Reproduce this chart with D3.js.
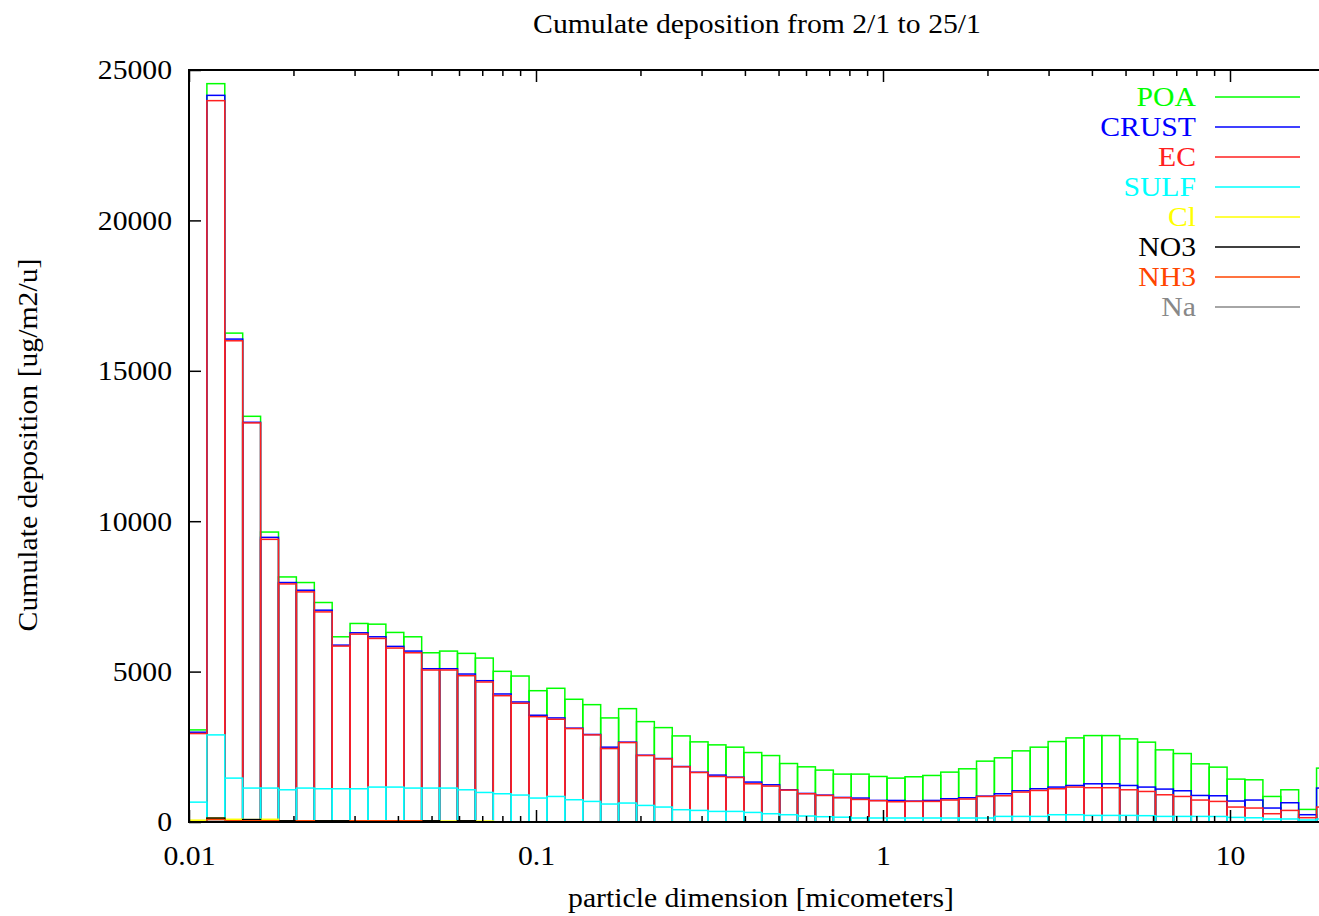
<!DOCTYPE html>
<html>
<head>
<meta charset="utf-8">
<script src="https://cdn.jsdelivr.net/npm/d3@7"></script>
<style>
body { margin: 0; background: #fff; }
svg { display: block; font-family: "Liberation Serif", "DejaVu Serif", serif; }
</style>
</head>
<body>
<svg width="1319" height="916"></svg>
<script>
var svg = d3.select("svg");

// bin edges (micrometers), 64 sections from 0.01 to 20
var binEdges = [0.01, 0.01126, 0.01268, 0.01428, 0.01608, 0.01811, 0.02039, 0.02297,
  0.02586, 0.02912, 0.03280, 0.03693, 0.04159, 0.04683, 0.05274, 0.05939,
  0.06688, 0.07531, 0.08481, 0.09551, 0.1075, 0.1211, 0.1364, 0.1536,
  0.1730, 0.1948, 0.2193, 0.2470, 0.2781, 0.3132, 0.3527, 0.3972,
  0.4472, 0.5036, 0.5671, 0.6386, 0.7192, 0.8099, 0.9120, 1.027,
  1.157, 1.302, 1.467, 1.652, 1.860, 2.094, 2.358, 2.656,
  2.991, 3.368, 3.793, 4.271, 4.809, 5.416, 6.099, 6.868,
  7.734, 8.709, 9.808, 11.04, 12.44, 14.01, 15.77, 17.76, 20];

// species deposition per bin [ug/m2/u]
var POA = [76, 389, 199, 199, 176, 186, 256, 255, 277, 310, 420, 464, 475, 531, 587, 687,
  753, 753, 863, 816, 985, 960, 991, 972, 1113, 1117, 1028, 1017, 1009, 1005, 998, 982,
  972, 872, 884, 832, 775, 796, 795, 742, 808, 830, 885, 962, 1163, 1194, 1327, 1383,
  1513, 1582, 1603, 1603, 1549, 1493, 1304, 1238, 1052, 952, 729, 673, 385, 431, 176, 663];
var CRUST = [45, 176, 56, 20, 66, 46, 55, 57, 32, 44, 55, 56, 56, 43, 43, 56,
  43, 57, 43, 46, 44, 15, 14, 47, 15, 11, 10, 11, 10, 46, 11, 57,
  43, 11, 11, 11, 11, 46, 11, 44, 11, 33, 43, 43, 11, 67, 43, 57,
  56, 53, 130, 130, 143, 146, 189, 189, 152, 188, 200, 266, 189, 255, 99, 631];
var EC = [2280, 21085, 14539, 12140, 8269, 6844, 6522, 5880, 4743, 5141, 4941, 4621, 4498, 3924, 3924, 3792,
  3672, 3260, 3051, 2707, 2567, 2365, 2212, 1844, 2010, 1658, 1603, 1426, 1260, 1161, 1127, 952,
  919, 819, 740, 706, 646, 617, 574, 540, 551, 551, 597, 630, 716, 686, 809, 862,
  863, 919, 921, 921, 852, 805, 719, 663, 544, 500, 344, 324, 175, 285, 77, 397];
var SULF = [600, 2766, 1369, 1048, 1038, 1031, 1088, 1065, 1065, 1065, 1121, 1121, 1088, 1088, 1098, 1031,
  952, 939, 896, 796, 849, 740, 684, 597, 630, 551, 497, 408, 385, 352, 352, 318,
  275, 242, 199, 176, 160, 133, 133, 133, 133, 133, 133, 133, 133, 186, 186, 186,
  242, 242, 219, 219, 219, 210, 186, 186, 186, 184, 153, 140, 100, 100, 66, 100];
var Cl = [60, 0, 50, 0, 50, 0, 0, 0, 0, 0, 0, 0, 0, 0, 30, 0,
  30, 0, 0, 0, 0, 0, 0, 0, 0, 0, 0, 0, 0, 0, 0, 0,
  0, 0, 0, 0, 0, 0, 0, 0, 0, 0, 0, 0, 0, 0, 0, 0,
  0, 0, 0, 0, 0, 0, 0, 0, 0, 0, 0, 0, 0, 0, 0, 0];
var NO3 = [0, 50, 0, 40, 0, 40, 0, 40, 40, 0, 0, 0, 0, 40, 0, 40,
  0, 0, 0, 0, 0, 0, 0, 0, 0, 0, 0, 0, 0, 0, 0, 0,
  0, 0, 0, 0, 0, 0, 0, 0, 0, 0, 0, 0, 0, 0, 0, 0,
  0, 0, 0, 0, 0, 0, 0, 0, 0, 0, 0, 0, 0, 0, 0, 0];
var NH3 = [0, 60, 40, 40, 40, 0, 40, 0, 0, 40, 40, 40, 40, 0, 0, 0,
  0, 0, 0, 0, 0, 0, 0, 0, 0, 0, 0, 0, 0, 0, 0, 0,
  0, 0, 0, 0, 0, 0, 0, 0, 0, 0, 0, 0, 0, 0, 0, 0,
  0, 0, 0, 0, 0, 0, 0, 0, 0, 0, 0, 0, 0, 0, 0, 0];
var Na = [0, 20, 0, 0, 0, 0, 0, 0, 0, 0, 0, 0, 0, 0, 0, 0,
  0, 0, 0, 0, 0, 0, 0, 0, 0, 0, 0, 0, 0, 0, 0, 0,
  0, 0, 0, 0, 0, 0, 0, 0, 0, 0, 0, 0, 0, 0, 0, 0,
  0, 0, 0, 0, 0, 0, 0, 0, 0, 0, 0, 0, 0, 0, 0, 0];

var yTicks = [0, 5000, 10000, 15000, 20000, 25000];
var xMajor = [0.01, 0.1, 1, 10];

// legend order = drawing order (top of stack first)
var series = [
  {name: "POA", values: POA, color: "#00ff00"},
  {name: "CRUST", values: CRUST, color: "#0000ff"},
  {name: "EC", values: EC, color: "#ff2020"},
  {name: "SULF", values: SULF, color: "#00ffff"},
  {name: "Cl", values: Cl, color: "#ffff00"},
  {name: "NO3", values: NO3, color: "#000000"},
  {name: "NH3", values: NH3, color: "#ff4500"},
  {name: "Na", values: Na, color: "#888888"}
];

var plotL = 189, plotT = 70, plotB = 822, decade = 347;
var x = d3.scaleLog().domain([0.01, 20]).range([plotL, plotL + decade * Math.log10(2000)]);
var y = d3.scaleLinear().domain([0, 25000]).range([plotB, plotT]);

// stacked table, bottom species first
var table = binEdges.slice(0, -1).map(function(d, i) {
  var row = {lo: d, hi: binEdges[i + 1]};
  series.forEach(function(s) { row[s.name] = s.values[i]; });
  return row;
});
var keys = series.map(function(s) { return s.name; }).reverse();
var stacked = d3.stack().keys(keys)(table);
var byName = {};
stacked.forEach(function(layer) { byName[layer.key] = layer; });

var sx = 1.1; // text is a bit wide in the original

//////////////////////////
// boxes, total first
//////////////////////////
series.forEach(function(s) {
  svg.append("g")
    .selectAll("rect")
    .data(byName[s.name])
    .enter()
    .append("rect")
    .attr("x", function(d) { return x(d.data.lo); })
    .attr("width", function(d) { return x(d.data.hi) - x(d.data.lo); })
    .attr("y", function(d) { return y(d[1]); })
    .attr("height", function(d) { return y(0) - y(d[1]); })
    .style("fill", "none")
    .style("stroke", s.color)
    .style("stroke-width", 1.5);
});

//////////////////////////
// axes
//////////////////////////
var minor = [];
[0.01, 0.1, 1, 10].forEach(function(p) {
  for (var m = 2; m <= 9; m++) if (p * m < 20) minor.push(p * m);
});

svg.append("g")
  .attr("transform", "translate(0," + plotB + ")")
  .call(d3.axisBottom(x).tickValues(minor).tickSize(-6).tickFormat(""));
svg.append("g")
  .attr("transform", "translate(0," + plotT + ")")
  .call(d3.axisTop(x).tickValues(minor).tickSize(-6).tickFormat(""));
svg.append("g")
  .attr("transform", "translate(0," + plotT + ")")
  .call(d3.axisTop(x).tickValues(xMajor).tickSize(-12).tickFormat(""));

var xAxis = svg.append("g")
  .attr("transform", "translate(0," + plotB + ")")
  .call(d3.axisBottom(x).tickValues(xMajor).tickSize(-12).tickPadding(43)
    .tickFormat(function(d) { return String(d); }));

var yAxis = svg.append("g")
  .attr("transform", "translate(" + plotL + ",0)")
  .call(d3.axisLeft(y).tickValues(yTicks).tickSize(-12).tickPadding(17 / sx)
    .tickFormat(function(d) { return String(d); }));

svg.selectAll(".domain").remove();
svg.selectAll(".tick line").style("stroke", "#000").style("stroke-width", 1.5);
svg.selectAll(".tick text")
  .style("font-family", "Liberation Serif")
  .style("font-size", "27px")
  .style("fill", "#000")
  .attr("transform", "scale(" + sx + ",1)");
xAxis.selectAll(".tick text").attr("dy", 0);
yAxis.selectAll(".tick text").attr("dy", "0.33em");

// border (right side lies outside the picture)
svg.append("path")
  .attr("d", "M1400," + plotT + "H" + plotL + "V" + plotB + "H1400")
  .style("fill", "none")
  .style("stroke", "#000")
  .style("stroke-width", 2);

//////////////////////////
// texts
//////////////////////////
function label(xp, yp, txt, rot, color, anchor) {
  svg.append("text")
    .attr("transform", "translate(" + xp + "," + yp + ")" + (rot ? " rotate(" + rot + ")" : "") + " scale(" + sx + ",1)")
    .attr("text-anchor", anchor || "middle")
    .style("font-size", "27px")
    .style("fill", color || "#000")
    .text(txt);
}

label(757, 33, "Cumulate deposition from 2/1 to 25/1");
label(761, 907, "particle dimension [micometers]");
label(37, 445, "Cumulate deposition [ug/m2/u]", -90);

// legend
series.forEach(function(s, i) {
  var ly = 97 + i * 30;
  label(1196, ly + 9, s.name, 0, s.color, "end");
  svg.append("line")
    .attr("x1", 1215).attr("x2", 1300)
    .attr("y1", ly).attr("y2", ly)
    .style("stroke", s.color)
    .style("stroke-width", 1.5);
});
</script>
</body>
</html>
